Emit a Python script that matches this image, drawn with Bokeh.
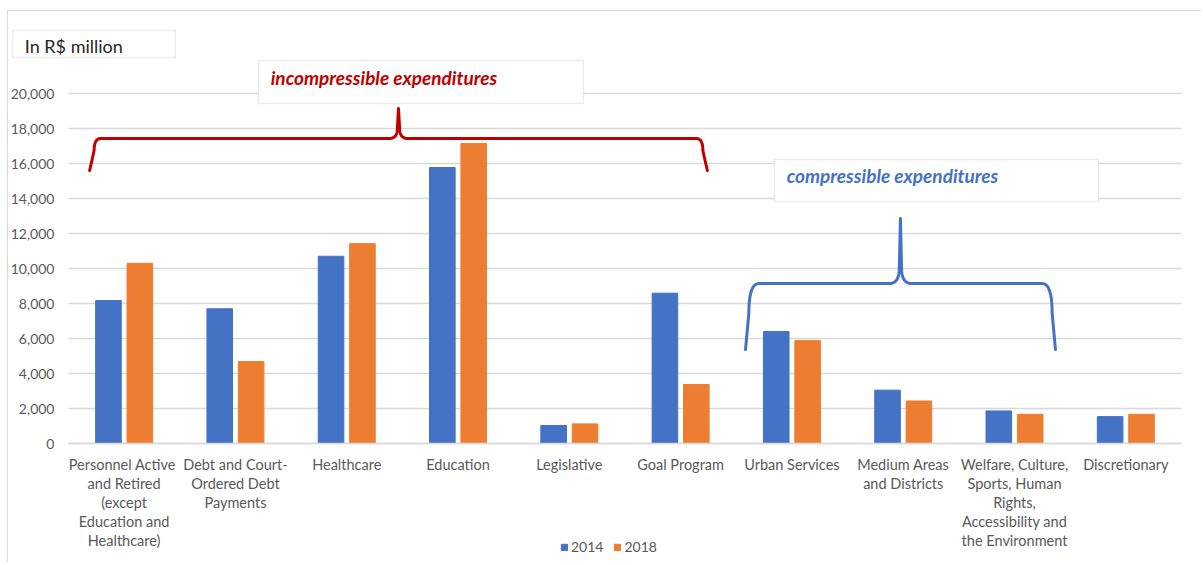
import numpy as np
from bokeh.plotting import figure
from bokeh.models import (Range1d, FixedTicker, NumeralTickFormatter, BoxAnnotation,
                          Label, Legend, LegendItem)
from bokeh.embed import file_html
from bokeh.resources import INLINE

# --- data (R$ million) ---
categories = [
    "Personnel  Active\nand Retired\n(except\nEducation and\nHealthcare)",
    "Debt and Court-\nOrdered Debt\nPayments",
    "Healthcare",
    "Education",
    "Legislative",
    "Goal Program",
    "Urban Services",
    "Medium Areas\nand Districts",
    "Welfare, Culture,\nSports, Human\nRights,\nAccessibility and\nthe Environment",
    "Discretionary",
]
values_2014 = [8170, 7700, 10700, 15770, 1030, 8590, 6400, 3050, 1860, 1540]
values_2018 = [10300, 4680, 11420, 17150, 1120, 3370, 5880, 2430, 1670, 1670]
series_labels = ["2014", "2018"]
y_ticks = list(range(0, 20001, 2000))

BLUE = "#4472C4"
ORANGE = "#ED7D31"
RED = "#C00000"
GRID = "#D9D9D9"
TEXT = "#595959"
FONT = "Lato"

n = len(categories)

# The frame fills the whole canvas; both axes sit at fixed data locations
# so the annotations and legend around the bars are never clipped.
p = figure(width=1194, height=552,
           x_range=Range1d(-0.539, 10.189), y_range=Range1d(-6857, 24686),
           output_backend="svg", toolbar_location=None,
           min_border_left=0, min_border_right=0, min_border_top=0,
           min_border_bottom=0)
p.outline_line_color = None
p.background_fill_color = "white"
p.border_fill_color = "white"
p.styles = {"margin-left": "7px", "margin-top": "10px",
            "border-left": "1px solid #D9D9D9", "border-top": "1px solid #D9D9D9"}

p.xgrid.visible = False
p.ygrid.visible = False

# horizontal gridlines across the category area only
p.segment(x0=0, x1=n, y0=y_ticks, y1=y_ticks, line_color=GRID, line_width=1.5)

centers = np.arange(n) + 0.5
r14 = p.vbar(x=centers - 0.141, top=values_2014, width=0.23, color=BLUE)
r18 = p.vbar(x=centers + 0.141, top=values_2018, width=0.23, color=ORANGE)

# axes
xa = p.xaxis[0]
xa.fixed_location = 0
xa.bounds = (0, n)
xa.ticker = FixedTicker(ticks=list(centers))
xa.major_label_overrides = {float(c): lab for c, lab in zip(centers, categories)}
xa.major_label_text_font = FONT
xa.major_label_text_font_size = "14.5px"
xa.major_label_text_color = TEXT
xa.major_label_text_line_height = 1.13
xa.major_label_standoff = 12
xa.major_tick_out = 0
xa.major_tick_in = 0
xa.minor_tick_out = 0
xa.minor_tick_in = 0
xa.axis_line_color = GRID
xa.axis_line_width = 1.5

ya = p.yaxis[0]
ya.fixed_location = 0
ya.ticker = FixedTicker(ticks=y_ticks)
ya.formatter = NumeralTickFormatter(format="0,0")
ya.major_label_text_font = FONT
ya.major_label_text_font_size = "14px"
ya.major_label_text_color = TEXT
ya.major_label_standoff = 14
ya.major_tick_out = 0
ya.major_tick_in = 0
ya.minor_tick_out = 0
ya.minor_tick_in = 0
ya.axis_line_color = None


def quad(p0, c, p1, k=16):
    t = np.linspace(0, 1, k)[:, None]
    a, b, d = np.array(p0), np.array(c), np.array(p1)
    pts = (1 - t) ** 2 * a + 2 * (1 - t) * t * b + t ** 2 * d
    return pts[:, 0].tolist(), pts[:, 1].tolist()


def brace(xl, xr, xp, y_end, y_bar, y_peak, arm_dx, arm_dy, cx, px, py):
    """Curly brace opening downward: arms at xl/xr, spike at xp."""
    xs, ys = [xl], [y_end]
    a, b = quad((xl + arm_dx, y_bar - arm_dy), (xl + arm_dx, y_bar), (xl + cx, y_bar))
    xs += a; ys += b
    a, b = quad((xp - px, y_bar), (xp - 0.01, y_bar), (xp - 0.01, y_bar + py))
    xs += a; ys += b
    xs.append(xp); ys.append(y_peak)
    a, b = quad((xp + 0.01, y_bar + py), (xp + 0.01, y_bar), (xp + px, y_bar))
    xs += a; ys += b
    a, b = quad((xr - cx, y_bar), (xr - arm_dx, y_bar), (xr - arm_dx, y_bar - arm_dy))
    xs += a; ys += b
    xs.append(xr); ys.append(y_end)
    return xs, ys


bx, by = brace(0.19, 5.74, 2.965, 15600, 17430, 19140, 0.04, 700, 0.10, 0.08, 600)
p.line(bx, by, line_color=RED, line_width=3, line_join="round", line_cap="round")

bx, by = brace(6.083, 8.868, 7.475, 5370, 9140, 12860, 0.03, 1700, 0.12, 0.10, 900)
p.line(bx, by, line_color=BLUE, line_width=3, line_join="round", line_cap="round")

# text boxes: (left, right, top, bottom, text y, text, colour, style, size)
boxes = [
    (-0.503, 0.961, 23600, 22057, 22690, "In R$ million", "#262626", "normal", "18px"),
    (1.707, 4.627, 21886, 19429, 20920, "incompressible expenditures", RED, "bold italic", "19px"),
    (6.343, 9.254, 16229, 13829, 15320, "compressible expenditures", BLUE, "bold italic", "19px"),
]
for left, right, top, bottom, ty, txt, col, style, size in boxes:
    p.add_layout(BoxAnnotation(left=left, right=right, top=top, bottom=bottom,
                               fill_color="white", fill_alpha=1.0,
                               line_color="#BFBFBF", line_width=1.5))
    p.add_layout(Label(x=left + 0.11, y=ty, text=txt,
                       text_color=col, text_font=FONT, text_font_style=style,
                       text_font_size=size, text_baseline="middle"))

legend = Legend(items=[LegendItem(label=series_labels[0], renderers=[r14]),
                       LegendItem(label=series_labels[1], renderers=[r18])],
                location=(552, 8), orientation="horizontal",
                glyph_width=8, glyph_height=8, label_standoff=3, spacing=10,
                padding=0, margin=0, border_line_color=None,
                background_fill_alpha=0,
                label_text_font=FONT, label_text_font_size="14px",
                label_text_color=TEXT)
p.add_layout(legend)

open("out.html", "w").write(file_html(p, INLINE))
